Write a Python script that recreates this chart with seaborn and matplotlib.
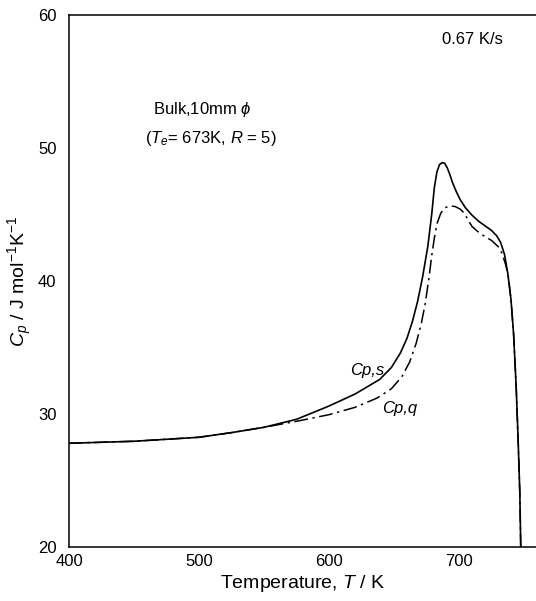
import matplotlib
matplotlib.use("Agg")
import matplotlib.pyplot as plt
import seaborn as sns
import pandas as pd
from matplotlib.ticker import MultipleLocator

# ---- data ----
T_s = [400, 450, 500, 525, 550, 575, 600, 620, 639, 648, 655, 660, 664, 668, 672, 676,
       679, 681, 683, 685, 687, 689, 691, 693, 695, 698, 701, 705, 710, 715, 720, 725,
       729, 732, 735, 737.5, 740, 742, 744, 745.5, 746.8, 747.5]
Cp_s = [27.8, 27.95, 28.25, 28.6, 29.0, 29.6, 30.6, 31.5, 32.6, 33.5, 34.6, 35.7, 36.9, 38.4, 40.3, 42.6,
        45.0, 47.0, 48.2, 48.75, 48.9, 48.85, 48.5, 48.0, 47.4, 46.7, 46.1, 45.5, 44.95, 44.5, 44.15, 43.8,
        43.4, 42.9, 42.0, 40.6, 38.6, 36.0, 32.0, 28.0, 24.0, 20.0]
T_q = [400, 450, 500, 525, 550, 575, 600, 620, 637, 648, 656, 662, 667, 671, 674, 677,
       679, 681, 683, 686, 689, 693, 697, 701, 704, 707, 710, 714, 719, 725, 730, 733,
       736, 738, 740, 742, 744, 745.5, 746.8, 747.5]
Cp_q = [27.8, 27.95, 28.25, 28.6, 29.0, 29.45, 29.95, 30.5, 31.2, 31.9, 32.8, 33.9, 35.3, 36.8, 38.3, 40.3,
        41.9, 43.2, 44.3, 45.1, 45.5, 45.65, 45.6, 45.4, 45.1, 44.6, 44.1, 43.75, 43.4, 43.05, 42.6, 42.1,
        41.2, 40.3, 38.6, 36.0, 32.0, 28.0, 24.0, 20.0]
x_major = [400, 500, 600, 700]
y_major = [20, 30, 40, 50, 60]

sns.set_theme(style="white")
plt.rcParams["font.family"] = ["Liberation Sans", "DejaVu Sans"]
plt.rcParams["mathtext.fontset"] = "custom"
plt.rcParams["mathtext.rm"] = "Liberation Sans"
plt.rcParams["mathtext.it"] = "Liberation Sans:italic"
plt.rcParams["mathtext.bf"] = "Liberation Sans:bold"

fig = plt.figure(figsize=(5.36, 6.01), dpi=100)
ax = fig.add_axes([69 / 536, (601 - 547) / 601, 468 / 536, 532 / 601])

df_s = pd.DataFrame({"T": T_s, "Cp": Cp_s})
df_q = pd.DataFrame({"T": T_q, "Cp": Cp_q})
sns.lineplot(data=df_s, x="T", y="Cp", ax=ax, color="black", lw=1.2,
             sort=False, estimator=None)
sns.lineplot(data=df_q, x="T", y="Cp", ax=ax, color="black", lw=1.1,
             sort=False, estimator=None, linestyle=(0, (9, 3, 1.5, 3)))

ax.set_xlim(400, 760)
ax.set_ylim(20, 60)
ax.set_xticks(x_major)
ax.set_yticks(y_major)
ax.xaxis.set_minor_locator(MultipleLocator(50))
ax.tick_params(axis="both", which="both", direction="in", length=5, width=1,
               color="black", labelsize=12, labelcolor="black")
ax.tick_params(axis="x", pad=5)
ax.tick_params(axis="y", pad=9)
for sp in ax.spines.values():
    sp.set_color("black")
    sp.set_linewidth(1.1)

ax.set_xlabel("Temperature, $T$ / K", fontsize=14, color="black", labelpad=3)
ax.set_ylabel("$C_p$ / J mol$^{\\mathregular{-1}}$K$^{\\mathregular{-1}}$", fontsize=14,
              color="black", labelpad=3)

ax.annotate("0.67 K/s", xy=(442 / 536, 1 - 40 / 601), xycoords="figure fraction",
            fontsize=12, va="center", ha="left", color="black")
ax.annotate("Bulk,10mm $\\phi$", xy=(153 / 536, 1 - 109 / 601), xycoords="figure fraction",
            fontsize=12, va="center", ha="left", color="black")
ax.annotate("($T_e$= 673K, $R$ = 5)", xy=(145 / 536, 1 - 138 / 601), xycoords="figure fraction",
            fontsize=12, va="center", ha="left", color="black")
ax.annotate("Cp,s", xy=(350 / 536, 1 - 370 / 601), xycoords="figure fraction",
            fontsize=12, style="italic", va="center", ha="left", color="black")
ax.annotate("Cp,q", xy=(382 / 536, 1 - 408 / 601), xycoords="figure fraction",
            fontsize=12, style="italic", va="center", ha="left", color="black")

fig.savefig("out.png", dpi=100)
